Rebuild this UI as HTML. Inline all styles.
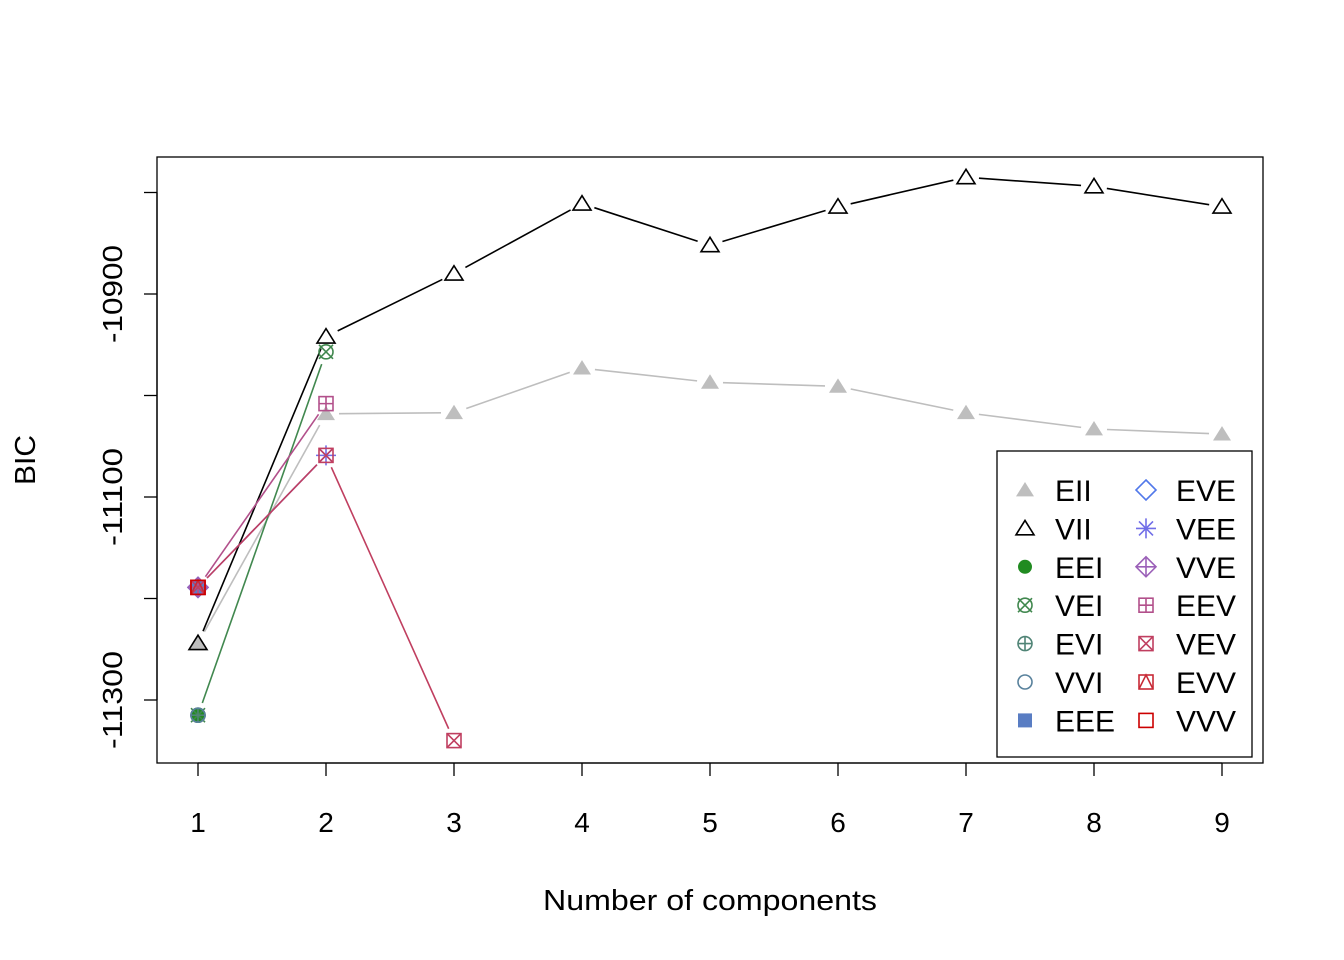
<!DOCTYPE html>
<html><head><meta charset="utf-8"><style>
body{margin:0;background:#fff}
svg{display:block;font-family:"Liberation Sans",Arial,sans-serif}
</style></head><body>
<svg id="c" width="1344" height="960" viewBox="0 0 1344 960"></svg>
<script>
const components=[1,2,3,4,5,6,7,8,9];
const models=["EII","VII","EEI","VEI","EVI","VVI","EEE","EVE","VEE","VVE","EEV","VEV","EVV","VVV"];
const colors=["#BEBEBE","#000000","#218B21","#41884F","#508476","#58819C","#597DC3","#5178EA","#716EE7","#9B60B8","#B2508B","#C03F60","#C82A36","#CC0000"];
const N=null;
const bicEII=[-11244,-11018,-11017,-10973,-10987,-10991,-11017,-11033,-11038];
const bicVII=[-11244,-10942,-10880,-10811,-10852,-10814,-10785,-10794,-10814];
const bicEEI=[-11315,N,N,N,N,N,N,N,N];
const bicVEI=[-11315,-10957,N,N,N,N,N,N,N];
const bicEVI=[-11315,N,N,N,N,N,N,N,N];
const bicVVI=[-11315,N,N,N,N,N,N,N,N];
const bicEEE=[-11189,N,N,N,N,N,N,N,N];
const bicEVE=[-11189,N,N,N,N,N,N,N,N];
const bicVEE=[-11189,-11059,N,N,N,N,N,N,N];
const bicVVE=[-11189,N,N,N,N,N,N,N,N];
const bicEEV=[-11189,-11008,N,N,N,N,N,N,N];
const bicVEV=[-11189,-11059,-11340,N,N,N,N,N,N];
const bicEVV=[-11189,N,N,N,N,N,N,N,N];
const bicVVV=[-11189,N,N,N,N,N,N,N,N];
const series=[bicEII,bicVII,bicEEI,bicVEI,bicEVI,bicVVI,bicEEE,bicEVE,bicVEE,bicVVE,bicEEV,bicVEV,bicEVV,bicVVV];
const yTicks=[-10800,-10900,-11000,-11100,-11200,-11300];
const yLabels=["","-10900","","-11100","","-11300"];

const svg=document.getElementById('c');
const NS="http://www.w3.org/2000/svg";
function el(t,a,p){const e=document.createElementNS(NS,t);for(const k in a)e.setAttribute(k,a[k]);(p||svg).appendChild(e);return e;}
const xs=v=>198+(v-1)*128;
const ys=v=>294+(-10900-v)*1.015;

function marker(i,x,y,g){
  const c=colors[i],s=8,sw=1.6;
  const st={fill:"none",stroke:c,"stroke-width":sw};
  const tri=()=>`${x},${y-s} ${x-s-1},${y+s*0.8} ${x+s+1},${y+s*0.8}`;
  switch(i){
    case 0: el('polygon',{points:tri(),fill:c},g);break;
    case 1: el('polygon',{points:tri(),...st},g);break;
    case 2: el('circle',{cx:x,cy:y,r:7,fill:c},g);break;
    case 3: el('circle',{cx:x,cy:y,r:7,...st},g);el('path',{d:`M${x-7},${y-7}L${x+7},${y+7}M${x+7},${y-7}L${x-7},${y+7}`,...st},g);break;
    case 4: el('circle',{cx:x,cy:y,r:7,...st},g);el('path',{d:`M${x-7},${y}L${x+7},${y}M${x},${y-7}L${x},${y+7}`,...st},g);break;
    case 5: el('circle',{cx:x,cy:y,r:7,...st},g);break;
    case 6: el('rect',{x:x-7,y:y-7,width:14,height:14,fill:c},g);break;
    case 7: el('polygon',{points:`${x},${y-10} ${x+10},${y} ${x},${y+10} ${x-10},${y}`,...st},g);break;
    case 8: el('path',{d:`M${x-10},${y}L${x+10},${y}M${x},${y-10}L${x},${y+10}M${x-7},${y-7}L${x+7},${y+7}M${x+7},${y-7}L${x-7},${y+7}`,...st},g);break;
    case 9: el('polygon',{points:`${x},${y-10} ${x+10},${y} ${x},${y+10} ${x-10},${y}`,...st},g);el('path',{d:`M${x-10},${y}L${x+10},${y}M${x},${y-10}L${x},${y+10}`,...st},g);break;
    case 10: el('rect',{x:x-7,y:y-7,width:14,height:14,...st},g);el('path',{d:`M${x-7},${y}L${x+7},${y}M${x},${y-7}L${x},${y+7}`,...st},g);break;
    case 11: el('rect',{x:x-7,y:y-7,width:14,height:14,...st},g);el('path',{d:`M${x-7},${y-7}L${x+7},${y+7}M${x+7},${y-7}L${x-7},${y+7}`,...st},g);break;
    case 12: el('rect',{x:x-7,y:y-7,width:14,height:14,...st},g);el('path',{d:`M${x-7},${y+7}L${x},${y-7}L${x+7},${y+7}`,...st},g);break;
    case 13: el('rect',{x:x-7,y:y-7,width:14,height:14,...st},g);break;
  }
}

const frame=el('rect',{x:157,y:157,width:1106,height:606,fill:"none",stroke:"#000","stroke-width":1.3});


const xa=el('g',{});
el('line',{x1:xs(1),x2:xs(9),y1:763,y2:763,stroke:"#000","stroke-width":1.3},xa);
components.forEach(v=>{
  el('line',{x1:xs(v),x2:xs(v),y1:763,y2:776,stroke:"#000","stroke-width":1.3},xa);
  const t=el('text',{x:xs(v),y:832,"text-anchor":"middle","font-size":28},xa);t.textContent=v;
  
});
const ya=el('g',{});
el('line',{x1:157,x2:157,y1:ys(yTicks[0]),y2:ys(yTicks[yTicks.length-1]),stroke:"#000","stroke-width":1.3},ya);
yTicks.forEach((v,i)=>{
  el('line',{x1:144,x2:157,y1:ys(v),y2:ys(v),stroke:"#000","stroke-width":1.3},ya);
  if(yLabels[i]){const t=el('text',{x:0,y:0,"text-anchor":"middle","font-size":28,textLength:98,lengthAdjust:"spacingAndGlyphs",transform:`translate(122,${ys(v)}) rotate(-90)`},ya);t.textContent=yLabels[i];
  }
});
const xt=el('text',{x:710,y:910,"text-anchor":"middle","font-size":29,textLength:334,lengthAdjust:"spacingAndGlyphs"});xt.textContent="Number of components";

const yt=el('text',{x:0,y:0,"text-anchor":"middle","font-size":29,textLength:50,lengthAdjust:"spacingAndGlyphs",transform:"translate(35,460) rotate(-90)"});yt.textContent="BIC";


series.forEach((arr,i)=>{
  const g=el('g',{});
  
  
  for(let k=0;k<arr.length-1;k++){
    if(arr[k]==null||arr[k+1]==null)continue;
    const x1=xs(components[k]),y1=ys(arr[k]),x2=xs(components[k+1]),y2=ys(arr[k+1]);
    const dx=x2-x1,dy=y2-y1,L=Math.hypot(dx,dy),gp=13;
    if(L<2*gp)continue;
    el('line',{x1:x1+dx/L*gp,y1:y1+dy/L*gp,x2:x2-dx/L*gp,y2:y2-dy/L*gp,stroke:colors[i],"stroke-width":1.6},g);
  }
  arr.forEach((v,k)=>{if(v!=null)marker(i,xs(components[k]),ys(v),g);});
});

const lg=el('g',{});
el('rect',{x:997,y:451,width:255,height:306,fill:"#fff",stroke:"#000","stroke-width":1.3},lg);
models.forEach((m,i)=>{
  const col=Math.floor(i/7),row=i%7;
  const y=490+row*38.4;
  const e=el('g',{},lg);
  marker(i,1025+col*121,y,e);
  const t=el('text',{x:1055+col*121,y:y+11,"font-size":30},e);t.textContent=m;
});
</script>
</body></html>
